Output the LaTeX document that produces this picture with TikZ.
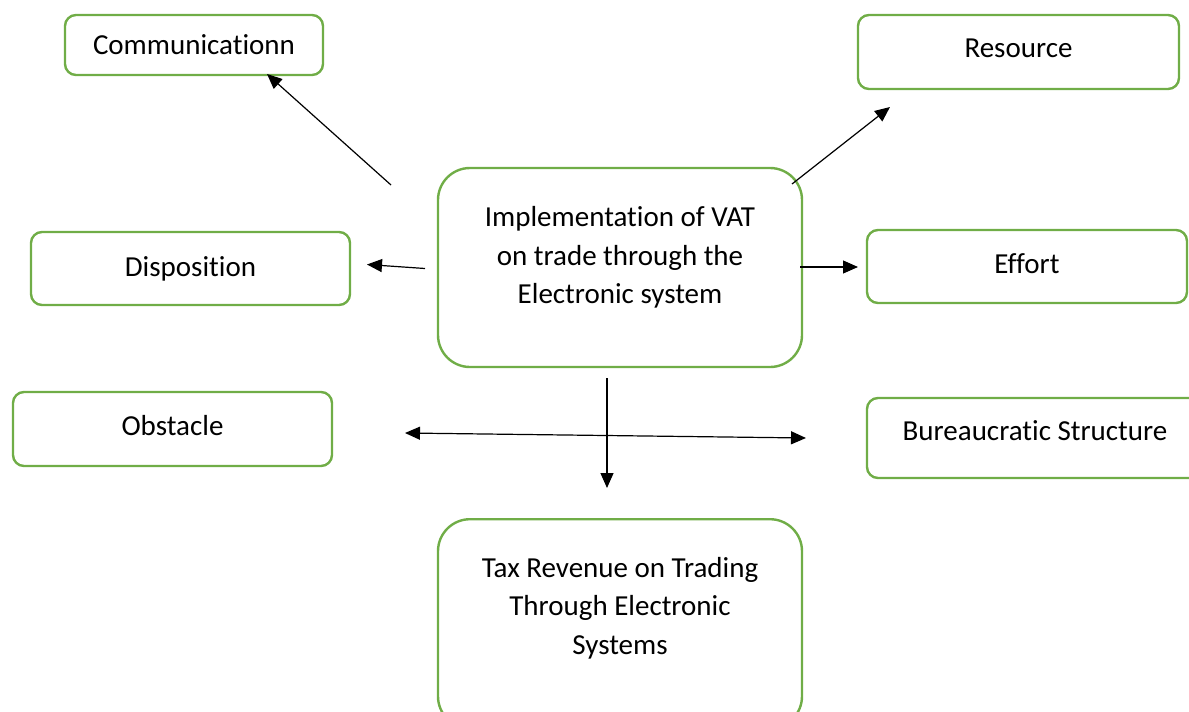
\documentclass[tikz,border=0pt]{standalone}
\usepackage{fontspec}
\setmainfont{Carlito}[Ligatures=NoCommon]
\usepackage{tikz}
\usetikzlibrary{arrows.meta}
\usepackage{xcolor}
\definecolor{leafgreen}{RGB}{112,173,71}
\tikzstyle{smallbox}=[draw=leafgreen, line width=2.4pt, rounded corners=11pt, text=black, inner sep=0pt, font=\fontsize{29}{38.5}\selectfont]
\tikzstyle{bigbox}=[smallbox, rounded corners=32pt, align=center, minimum width=364pt]
\tikzstyle{link}=[-{Triangle[length=15pt,width=13pt]}, line width=1.2pt, black]

\begin{document}
\begin{tikzpicture}[x=1pt,y=-1pt]%

	\useasboundingbox (0,0) rectangle (1189,712);
	\clip (0,0) rectangle (1189,712);

	\begin{scope}
		\draw  (620,267.5) node (Box_Impl)    [bigbox, minimum height=199pt] {Implementation of VAT\\on trade through the\\Electronic system\rule[-25pt]{0pt}{0pt}};
		\draw  (620,518)   node (Box_Revenue) [bigbox, anchor=north, inner ysep=38pt] {Tax Revenue on Trading\\Through Electronic\\Systems\rule[-36pt]{0pt}{0pt}};

		\draw  (194,45)    node (Box_Comm)  [smallbox, minimum width=258pt, minimum height=60pt] {Communicationn};
		\draw  (1018.5,52) node (Box_Res)   [smallbox, minimum width=321pt, minimum height=74pt, text depth=8pt] {Resource};
		\draw  (190.5,268.5) node (Box_Disp)  [smallbox, minimum width=319pt, minimum height=73pt] {Disposition};
		\draw  (1027,266.5)  node (Box_Eff)   [smallbox, minimum width=320pt, minimum height=73pt, text depth=6pt] {Effort};
		\draw  (172.5,429) node (Box_Obs)   [smallbox, minimum width=319pt, minimum height=74pt, text depth=8pt] {Obstacle};
		\draw  (1035,438)  node (Box_Bur)   [smallbox, minimum width=336pt, minimum height=80pt, text depth=14pt] {Bureaucratic Structure};

		\coordinate (From_Comm) at (391,185);
		\coordinate (To_Comm)   at (267,74);
		\coordinate (From_Res)  at (792,184);
		\coordinate (To_Res)    at (890,107);
		\coordinate (From_Disp) at (425,268.5);
		\coordinate (To_Disp)   at (367,264.5);
		\coordinate (From_Eff)  at (800,267);
		\coordinate (To_Eff)    at (858,267);
		\coordinate (From_Down) at (607,378);
		\coordinate (To_Down)   at (607,488);
		\coordinate (To_Obs)    at (405,433);
		\coordinate (To_Bur)    at (806,438);

		\draw [link] (From_Comm) -- (To_Comm);
		\draw [link] (From_Res)  -- (To_Res);
		\draw [link] (From_Disp) -- (To_Disp);
		\draw [link] (From_Eff)  -- (To_Eff);
		\draw [link] (From_Down) -- (To_Down);
		\draw [link, {Triangle[length=15pt,width=13pt]}-{Triangle[length=15pt,width=13pt]}] (To_Obs) -- (To_Bur);
	\end{scope}

\end{tikzpicture}
\end{document}
